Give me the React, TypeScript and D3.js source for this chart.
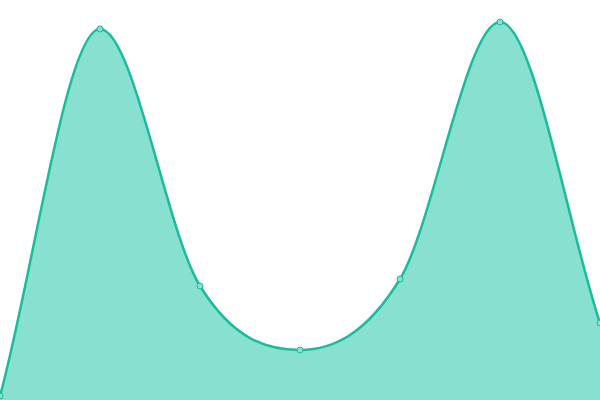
import * as d3 from 'd3';

// Area series, one value per step
const steps = [0, 1, 2, 3, 4, 5, 6];
const values = [1, 92.75, 28.5, 12.5, 30.25, 94.5, 19.25];

const WIDTH = 600;
const HEIGHT = 400;
const LINE = '#1abc9c';
const FILL = '#88e0d0';

type Pt = [number, number];

// monotone cubic (Fritsch-Carlson, secant tangents at the ends)
function monotonePath(pts: Pt[], p: d3.Path) {
  const n = pts.length;
  const delta: number[] = [];
  for (let i = 0; i < n - 1; i++) {
    delta.push((pts[i + 1][1] - pts[i][1]) / (pts[i + 1][0] - pts[i][0]));
  }
  const m: number[] = new Array(n).fill(0);
  m[0] = delta[0];
  m[n - 1] = delta[n - 2];
  for (let i = 1; i < n - 1; i++) {
    const a = delta[i - 1];
    const b = delta[i];
    m[i] = a === 0 || b === 0 || Math.sign(a) !== Math.sign(b) ? 0 : (a + b) / 2;
  }
  for (let i = 0; i < n - 1; i++) {
    if (delta[i] === 0) { m[i] = 0; m[i + 1] = 0; continue; }
    const al = m[i] / delta[i];
    const be = m[i + 1] / delta[i];
    const s = al * al + be * be;
    if (s > 9) {
      const tau = 3 / Math.sqrt(s);
      m[i] = tau * al * delta[i];
      m[i + 1] = tau * be * delta[i];
    }
  }
  for (let i = 0; i < n - 1; i++) {
    const [x0, y0] = pts[i];
    const [x1, y1] = pts[i + 1];
    const h = (x1 - x0) / 3;
    p.bezierCurveTo(x0 + h, y0 + m[i] * h, x1 - h, y1 - m[i + 1] * h, x1, y1);
  }
}

export default function App() {
  const x = d3.scaleLinear().domain([0, 6]).range([0, WIDTH]);
  const y = d3.scaleLinear().domain([0, 100]).range([HEIGHT, 0]);

  const pts: Pt[] = steps.map((s, i) => [x(s), y(values[i])]);

  const line = d3.path();
  line.moveTo(pts[0][0], pts[0][1]);
  monotonePath(pts, line);

  const area = d3.path();
  area.moveTo(pts[0][0], y(0));
  area.lineTo(pts[0][0], pts[0][1]);
  monotonePath(pts, area);
  area.lineTo(pts[pts.length - 1][0], y(0));
  area.closePath();

  return (
    <svg
      width={WIDTH}
      height={HEIGHT}
      style={{ position: 'absolute', left: 0, top: 0, display: 'block', background: '#fff' }}
    >
      <path d={area.toString()} fill={FILL} />
      <path d={line.toString()} fill="none" stroke={LINE} strokeWidth={2.5} />
      {pts.map((d, i) => (
        <circle
          key={steps[i]}
          cx={d[0]}
          cy={d[1]}
          r={3}
          fill={FILL}
          stroke={LINE}
          strokeWidth={1}
        />
      ))}
    </svg>
  );
}
